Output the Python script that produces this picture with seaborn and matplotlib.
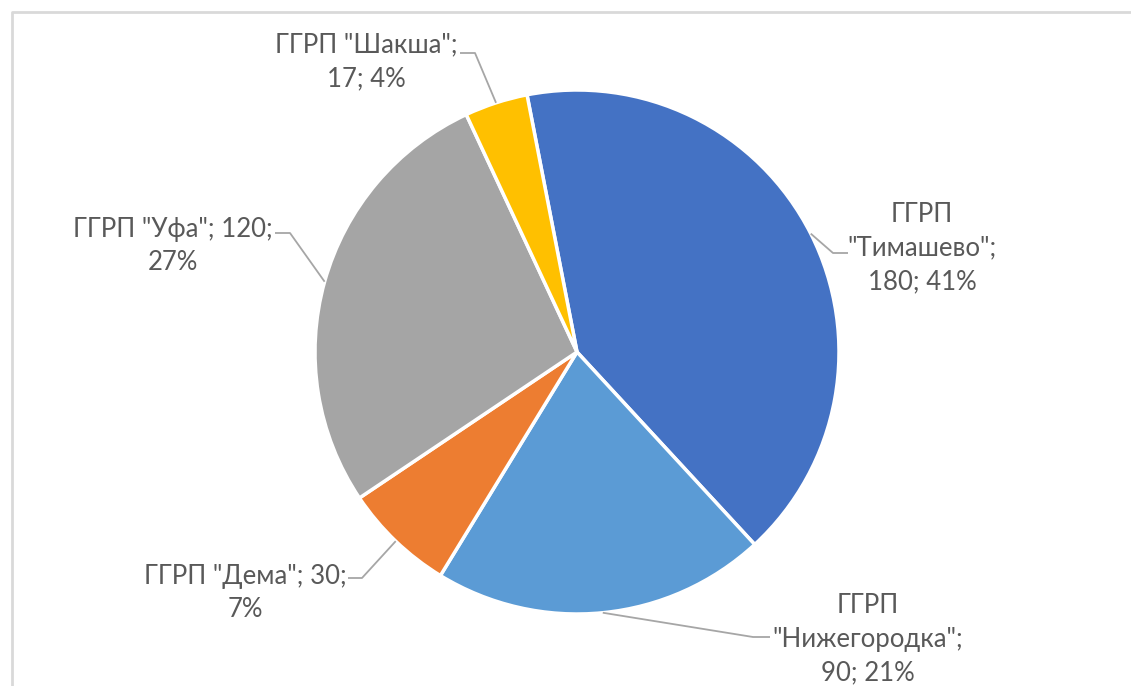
import numpy as np
import matplotlib
matplotlib.use("Agg")
import matplotlib.pyplot as plt
import seaborn as sns

# data
names = ['ГГРП "Тимашево"', 'ГГРП "Нижегородка"', 'ГГРП "Дема"', 'ГГРП "Уфа"', 'ГГРП "Шакша"']
values = [180, 90, 30, 120, 17]
colors = ['#4472C4', '#5B9BD5', '#ED7D31', '#A5A5A5', '#FFC000']

sns.set_theme(style="white")
plt.rcParams['font.family'] = ['Lato', 'DejaVu Sans']

W, H = 1131, 686
fig = plt.figure(figsize=(W / 100, H / 100), dpi=100)
ax = fig.add_axes([0, 0, 1, 1])

def py(y):
    # pixel row (from top) -> data y
    return H - y

cx, cy, r = 577, py(352), 262
wedges, _ = ax.pie(values, colors=sns.color_palette(colors), startangle=101,
                   counterclock=False, center=(cx, cy), radius=r,
                   wedgeprops=dict(edgecolor='white', linewidth=2.5))
ax.set_xlim(0, W)
ax.set_ylim(0, H)
ax.set_aspect('equal')
ax.axis('off')

total = sum(values)
# label layout: how each label is broken into lines, text centre, leader elbow and end
layout = [
    (lambda n, v, p: n.replace(' ', '\n', 1) + f';\n{v}; {p}%', (922, 248), (833, 253), (848, 253)),
    (lambda n, v, p: n.replace(' ', '\n', 1) + f';\n{v}; {p}%', (868, 639), (753, 637), (770, 637)),
    (lambda n, v, p: f'{n}; {v};\n{p}%', (245, 593), (362, 578), (348, 578)),
    (lambda n, v, p: f'{n}; {v};\n{p}%', (173, 246), (290, 233), (275, 233)),
    (lambda n, v, p: f'{n};\n{v}; {p}%', (366, 62), (475, 53), (460, 53)),
]

for w, n, v, (fmt, tpos, elbow, end) in zip(wedges, names, values, layout):
    ang = np.deg2rad((w.theta1 + w.theta2) / 2)
    ax_pt = (cx + r * np.cos(ang), cy + r * np.sin(ang))
    ax.plot([ax_pt[0], elbow[0], end[0]], [ax_pt[1], py(elbow[1]), py(end[1])],
            color='#A6A6A6', lw=1.3, solid_capstyle='butt')
    p = round(100 * v / total)
    ax.text(tpos[0], py(tpos[1]), fmt(n, v, p), ha='center', va='center',
            fontsize=18.5, color='#595959', linespacing=1.42)

# light frame of the chart area
ax.plot([12, 12, W], [0, py(12), py(12)], color='#D9D9D9', lw=2)

fig.savefig('out.png', dpi=100)
